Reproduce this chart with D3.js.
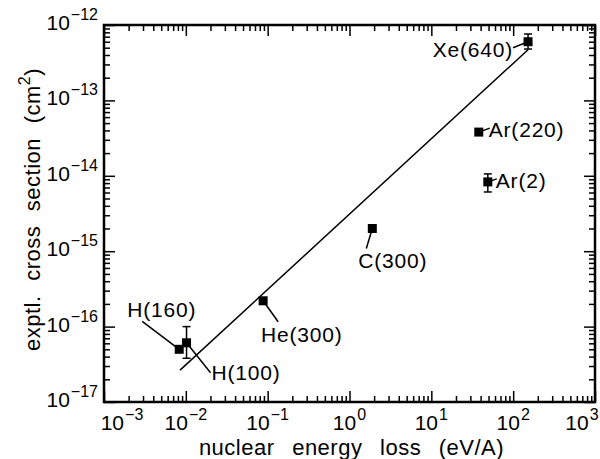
<!DOCTYPE html>
<html>
<head>
<meta charset="utf-8">
<script src="https://cdn.jsdelivr.net/npm/d3@7"></script>
<style>
    body { margin: 0; background: #fff; }
    svg { display: block; font-family: "Liberation Sans", Arial, Helvetica, sans-serif; }
</style>
</head>
<body>
<div id="chart"></div>
<script>
(function () {
    "use strict";

    // ion (energy in keV) and its measured point
    const ions = ["H(160)", "H(100)", "He(300)", "C(300)", "Ar(220)", "Ar(2)", "Xe(640)"];
    const nuclearLoss = [0.0083, 0.0102, 0.088, 1.9, 38, 49, 152];
    const crossSection = [5.0e-17, 6.1e-17, 2.2e-16, 2.0e-15, 3.8e-14, 8.3e-15, 6.0e-13];
    const errLow = [null, 3.8e-17, null, null, null, 6.1e-15, 4.8e-13];
    const errHigh = [null, 1.0e-16, null, null, null, 1.06e-14, 7.6e-13];

    // fitted line (two end points)
    const fitX = [0.0085, 152];
    const fitY = [2.65e-17, 4.7e-13];

    // decade tick exponents
    const xExponents = [-3, -2, -1, 0, 1, 2, 3];
    const yExponents = [-17, -16, -15, -14, -13, -12];

    // label placement relative to the marker: text offset, anchor, leader end
    const labelLayout = [
        { dx: -52, dy: -32, anchor: "start", lx: -37, ly: -28 },
        { dx: 25, dy: 37, anchor: "start", lx: 24, ly: 30 },
        { dx: -2, dy: 41, anchor: "start", lx: 15, ly: 21 },
        { dx: -14, dy: 39, anchor: "start", lx: -6, ly: 20 },
        { dx: 10, dy: 5, anchor: "start", lx: 11, ly: -4 },
        { dx: 8, dy: 6, anchor: "start", lx: 9, ly: -3 },
        { dx: -15, dy: 15, anchor: "end", lx: -15, ly: 6 },
    ];

    const width = 600;
    const height = 459;
    const margin = { top: 25, right: 5, bottom: 57, left: 104 };

    const svg = d3.select("#chart").append("svg").attr("width", width).attr("height", height);

    const x = d3.scaleLog().domain([1e-3, 1e3]).range([margin.left, width - margin.right]);
    const y = d3.scaleLog().domain([1e-17, 1e-12]).range([height - margin.bottom, margin.top]);

    // minor tick values 2..9 in each decade
    let minorTicks = (exps) => {
        let out = [];
        exps.slice(0, -1).forEach((e) => {
            for (let k = 2; k <= 9; k++) out.push(k * Math.pow(10, e));
        });
        return out;
    };
    const xMajor = xExponents.map((e) => Math.pow(10, e));
    const yMajor = yExponents.map((e) => Math.pow(10, e));
    const xMinor = minorTicks(xExponents);
    const yMinor = minorTicks(yExponents);

    const x0 = margin.left;
    const x1 = width - margin.right;
    const y0 = height - margin.bottom;
    const y1 = margin.top;

    // inward ticks on all four sides
    let drawTicks = (axisFn, scale, values, size, transform) => {
        const g = svg
            .append("g")
            .attr("transform", transform)
            .call(axisFn(scale).tickValues(values).tickSizeInner(size).tickSizeOuter(0).tickFormat(""));
        g.select(".domain").remove();
        g.selectAll("line").attr("stroke", "#000").attr("stroke-width", 1.5);
    };
    drawTicks(d3.axisBottom, x, xMajor, -11, `translate(0,${y0})`);
    drawTicks(d3.axisBottom, x, xMinor, -6, `translate(0,${y0})`);
    drawTicks(d3.axisTop, x, xMajor, -11, `translate(0,${y1})`);
    drawTicks(d3.axisTop, x, xMinor, -6, `translate(0,${y1})`);
    drawTicks(d3.axisLeft, y, yMajor, -11, `translate(${x0},0)`);
    drawTicks(d3.axisLeft, y, yMinor, -6, `translate(${x0},0)`);
    drawTicks(d3.axisRight, y, yMajor, -11, `translate(${x1},0)`);
    drawTicks(d3.axisRight, y, yMinor, -6, `translate(${x1},0)`);

    // frame
    svg.append("rect")
        .attr("x", x0)
        .attr("y", y1)
        .attr("width", x1 - x0)
        .attr("height", y0 - y1)
        .attr("fill", "none")
        .attr("stroke", "#000")
        .attr("stroke-width", 2.5);

    // tick labels as 10 with superscript exponent
    let powerLabel = (sel, exp) => {
        sel.append("tspan").text("10");
        sel.append("tspan")
            .attr("dx", 1)
            .attr("dy", -10)
            .attr("font-size", 16)
            .text(exp < 0 ? "\u2212" + Math.abs(exp) : "" + exp);
    };

    // end labels nudged inward so they stay inside the picture
    let xLabelShift = (i) => (i === 0 ? 18 : i === xExponents.length - 1 ? -13 : 0);

    svg.selectAll(".xlabel")
        .data(xExponents)
        .join("text")
        .attr("class", "xlabel")
        .attr("x", (d, i) => x(Math.pow(10, d)) + xLabelShift(i))
        .attr("y", y0 + 28)
        .attr("text-anchor", "middle")
        .attr("font-size", 21)
        .each(function (d) {
            powerLabel(d3.select(this), d);
        });

    svg.selectAll(".ylabel")
        .data(yExponents)
        .join("text")
        .attr("class", "ylabel")
        .attr("x", x0 - 6)
        .attr("y", (d) => y(Math.pow(10, d)) + 5)
        .attr("text-anchor", "end")
        .attr("font-size", 21)
        .each(function (d) {
            powerLabel(d3.select(this), d);
        });

    // axis titles
    svg.append("text")
        .attr("x", (x0 + x1) / 2 + 2)
        .attr("y", height - 4)
        .attr("text-anchor", "middle")
        .attr("font-size", 22)
        .attr("letter-spacing", 0.5)
        .attr("word-spacing", 11)
        .text("nuclear energy loss (eV/A)");

    const yTitle = svg
        .append("text")
        .attr("transform", `translate(40,${(y0 + y1) / 2 - 4}) rotate(-90)`)
        .attr("text-anchor", "middle")
        .attr("font-size", 22)
        .attr("letter-spacing", 0.5)
        .attr("word-spacing", 8);
    yTitle.append("tspan").text("exptl. cross section (cm");
    yTitle.append("tspan").attr("dy", -10).attr("font-size", 16).text("2");
    yTitle.append("tspan").attr("dy", 10).text(")");

    // fitted line
    const fitData = fitX.map((v, i) => [v, fitY[i]]);
    svg.append("path")
        .datum(fitData)
        .attr("fill", "none")
        .attr("stroke", "#000")
        .attr("stroke-width", 1.5)
        .attr("d", d3.line().x((d) => x(d[0])).y((d) => y(d[1])));

    const points = ions.map((name, i) => ({
        name: name,
        x: nuclearLoss[i],
        y: crossSection[i],
        lo: errLow[i],
        hi: errHigh[i],
        layout: labelLayout[i],
    }));

    // leader lines from marker to label
    svg.selectAll(".leader")
        .data(points)
        .join("line")
        .attr("class", "leader")
        .attr("x1", (d) => x(d.x))
        .attr("y1", (d) => y(d.y))
        .attr("x2", (d) => x(d.x) + d.layout.lx)
        .attr("y2", (d) => y(d.y) + d.layout.ly)
        .attr("stroke", "#000")
        .attr("stroke-width", 1.5);

    // error bars
    const withErr = points.filter((d) => d.lo !== null);
    const errG = svg.append("g").attr("stroke", "#000").attr("stroke-width", 1.5);
    errG.selectAll(".err")
        .data(withErr)
        .join("line")
        .attr("x1", (d) => x(d.x))
        .attr("x2", (d) => x(d.x))
        .attr("y1", (d) => y(d.lo))
        .attr("y2", (d) => y(d.hi));
    ["lo", "hi"].forEach((key) => {
        errG.selectAll(".cap-" + key)
            .data(withErr)
            .join("line")
            .attr("x1", (d) => x(d.x) - 4)
            .attr("x2", (d) => x(d.x) + 4)
            .attr("y1", (d) => y(d[key]))
            .attr("y2", (d) => y(d[key]));
    });

    // square markers
    const size = 9;
    svg.selectAll(".marker")
        .data(points)
        .join("rect")
        .attr("class", "marker")
        .attr("x", (d) => x(d.x) - size / 2)
        .attr("y", (d) => y(d.y) - size / 2)
        .attr("width", size)
        .attr("height", size)
        .attr("fill", "#000");

    // point labels
    svg.selectAll(".plabel")
        .data(points)
        .join("text")
        .attr("class", "plabel")
        .attr("x", (d) => x(d.x) + d.layout.dx)
        .attr("y", (d) => y(d.y) + d.layout.dy)
        .attr("text-anchor", (d) => d.layout.anchor)
        .attr("font-size", 21)
        .attr("letter-spacing", 0.8)
        .text((d) => d.name);
})();
</script>
</body>
</html>
